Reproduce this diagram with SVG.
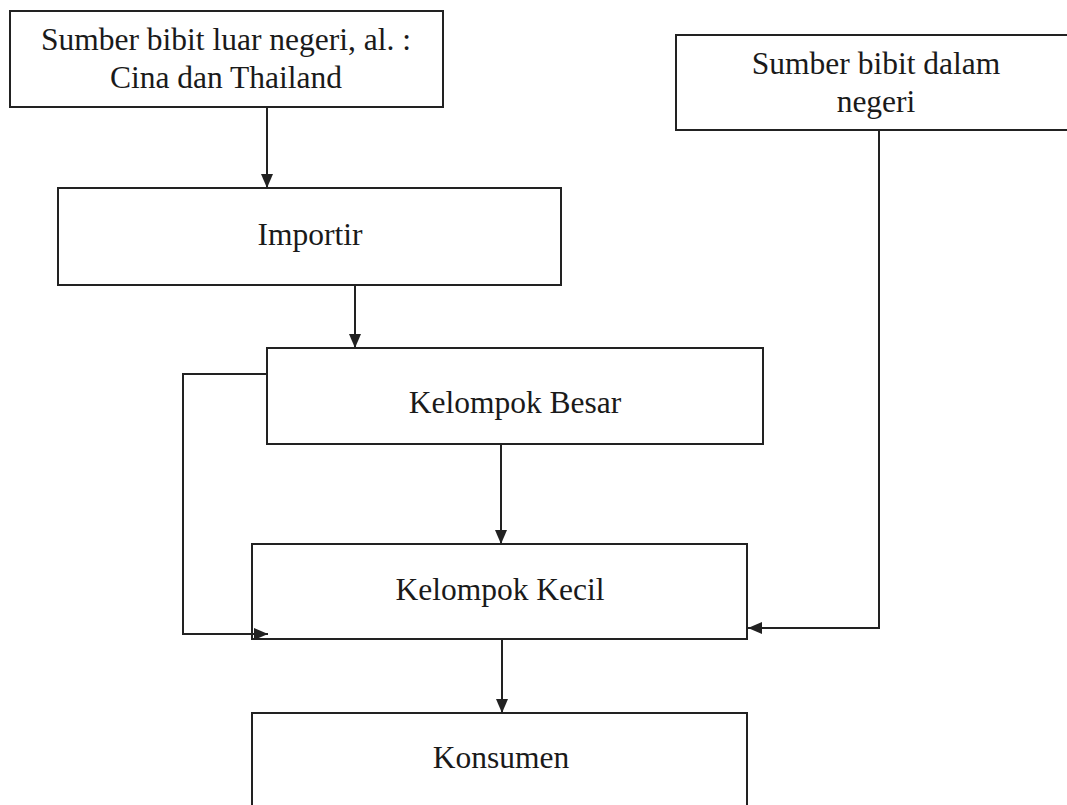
<svg xmlns="http://www.w3.org/2000/svg" width="1067" height="805" viewBox="0 0 1067 805">
<style>
.box{fill:#fff;stroke:#222;stroke-width:2}
.lbl{font-family:"Liberation Serif","Times New Roman",serif;font-size:31.5px;fill:#1a1a1a;text-anchor:middle}
.con{fill:none;stroke:#222;stroke-width:2}
</style>
<defs>
<marker id="ah" markerUnits="userSpaceOnUse" markerWidth="14" markerHeight="12" viewBox="0 0 14 12" refX="14" refY="6" orient="auto">
<path d="M0,0 L14,6 L0,12 Z" fill="#222"/>
</marker>
</defs>
<rect width="1067" height="805" fill="#fff"/>
<g id="node-luar">
<rect class="box" x="10" y="11" width="433" height="96"/>
<text class="lbl" x="226" y="50">Sumber bibit luar negeri, al. :</text>
<text class="lbl" x="226" y="88">Cina dan Thailand</text>
</g>
<g id="node-dalam">
<rect class="box" x="676" y="35" width="400" height="95"/>
<text class="lbl" x="876" y="74">Sumber bibit dalam</text>
<text class="lbl" x="876" y="112">negeri</text>
</g>
<g id="node-importir">
<rect class="box" x="58" y="188" width="503" height="97"/>
<text class="lbl" x="310" y="245">Importir</text>
</g>
<g id="node-besar">
<rect class="box" x="267" y="348" width="496" height="96"/>
<text class="lbl" x="515" y="413">Kelompok Besar</text>
</g>
<g id="node-kecil">
<rect class="box" x="252" y="544" width="495" height="95"/>
<text class="lbl" x="500" y="600">Kelompok Kecil</text>
</g>
<g id="node-konsumen">
<rect class="box" x="252" y="713" width="495" height="100"/>
<text class="lbl" x="501" y="768">Konsumen</text>
</g>
<g id="connectors">
<line class="con" x1="267" y1="107" x2="267" y2="188" marker-end="url(#ah)"/>
<line class="con" x1="355" y1="285" x2="355" y2="348" marker-end="url(#ah)"/>
<line class="con" x1="501" y1="444" x2="501" y2="544" marker-end="url(#ah)"/>
<line class="con" x1="502" y1="639" x2="502" y2="713" marker-end="url(#ah)"/>
<path class="con" d="M267,374 H183 V634 H268" marker-end="url(#ah)"/>
<path class="con" d="M879,130 V628 H748" marker-end="url(#ah)"/>
</g>
</svg>
